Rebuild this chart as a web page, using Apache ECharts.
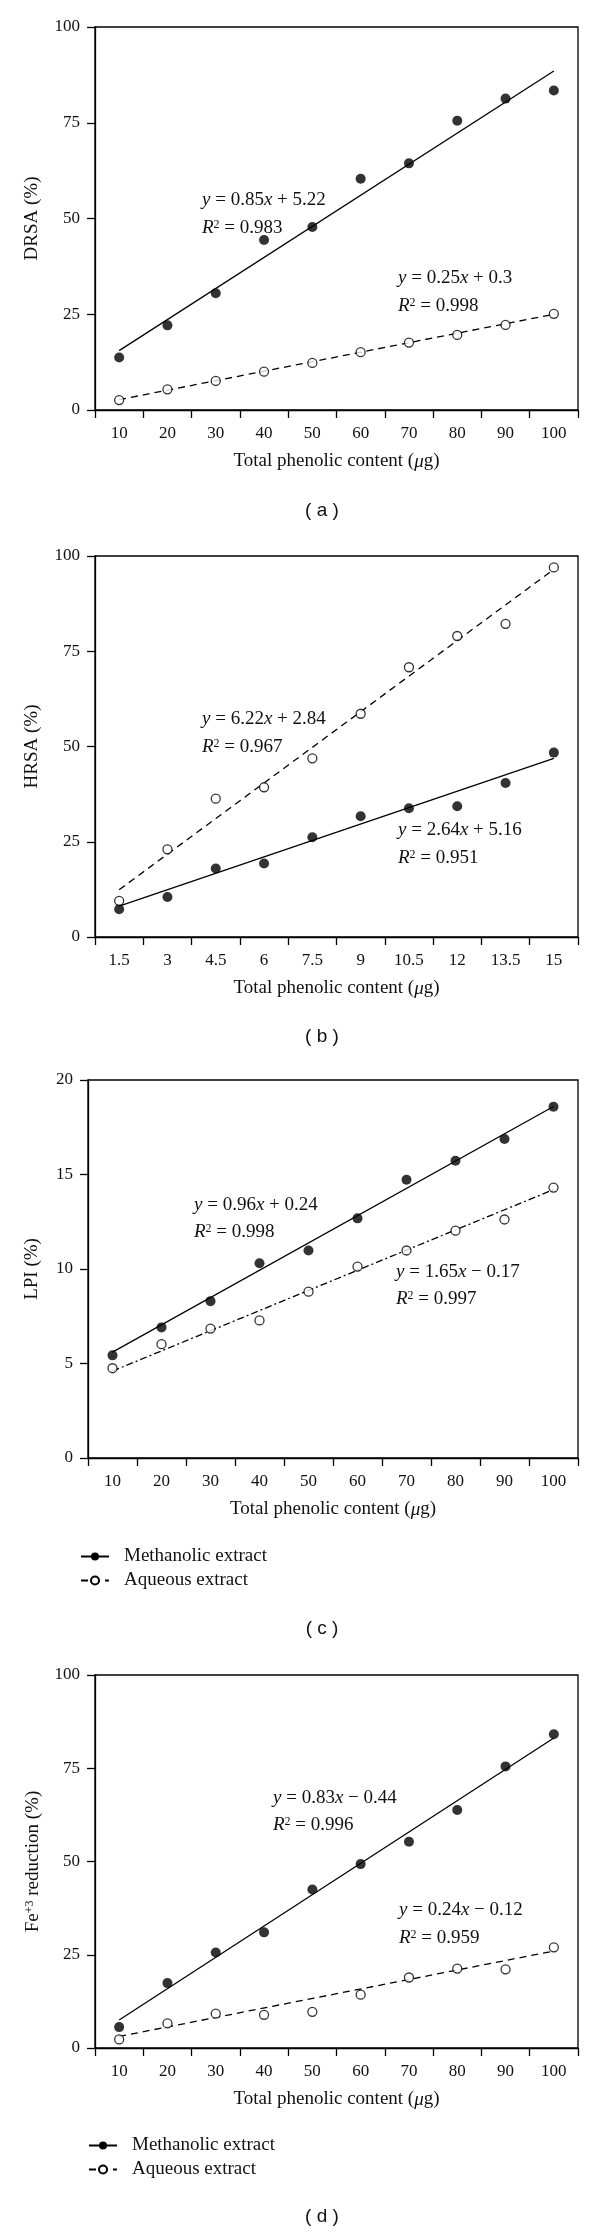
<!DOCTYPE html>
<html>
<head>
<meta charset="utf-8">
<script src="https://cdn.jsdelivr.net/npm/echarts@6/dist/echarts.min.js"></script>
<style>
html,body{margin:0;padding:0;background:#fff;}
#chart{width:600px;height:2233px;}
</style>
</head>
<body>
<div id="chart"></div>
<script>
// ---------------- DATA ----------------
const doseCats = ['10','20','30','40','50','60','70','80','90','100'];
const doseCatsB = ['1.5','3','4.5','6','7.5','9','10.5','12','13.5','15'];

// (a) DRSA
const drsaMeth = [13.7, 22.1, 30.5, 44.4, 47.8, 60.4, 64.4, 75.5, 81.3, 83.4];
const drsaAq   = [2.6, 5.4, 7.6, 10.0, 12.3, 15.1, 17.6, 19.6, 22.2, 25.1];
const drsaMethFit = [15.5, 88.5];
const drsaAqFit   = [2.7, 25.0];

// (b) HRSA
const hrsaMeth = [7.3, 10.5, 18.0, 19.3, 26.2, 31.7, 33.8, 34.3, 40.4, 48.4];
const hrsaAq   = [9.5, 23.0, 36.3, 39.3, 46.9, 58.6, 70.8, 79.0, 82.2, 97.0];
const hrsaMethFit = [8.1, 46.9];
const hrsaAqFit   = [12.4, 96.5];

// (c) LPI
const lpiMeth = [5.43, 6.91, 8.30, 10.30, 10.98, 12.68, 14.72, 15.73, 16.88, 18.58];
const lpiAq   = [4.75, 6.02, 6.85, 7.28, 8.80, 10.13, 10.98, 12.03, 12.62, 14.31];
const lpiMethFit = [5.6, 18.6];
const lpiAqFit   = [4.6, 14.2];

// (d) Fe+3 reduction
const feMeth = [5.6, 17.4, 25.6, 31.0, 42.5, 49.3, 55.3, 63.8, 75.5, 84.1];
const feAq   = [2.3, 6.6, 9.2, 8.9, 9.7, 14.3, 18.9, 21.3, 21.1, 27.0];
const feMethFit = [7.5, 83.1];
const feAqFit   = [3.1, 26.0];

const yNames = ['DRSA (%)', 'HRSA (%)', 'LPI (%)', 'Fe{sup|+3} reduction (%)'];
const yMax = [100, 100, 20, 100];
const yStep = [25, 25, 5, 25];
const xName = 'Total phenolic content ({i|μ}g)';
const legendNames = ['Methanolic extract', 'Aqueous extract'];
const captions = ['( a )', '( b )', '( c )', '( d )'];
// equations: [equation text, R2]
const equations = [
  [['y = 0.85x + 5.22', '0.983'], ['y = 0.25x + 0.3', '0.998']],
  [['y = 6.22x + 2.84', '0.967'], ['y = 2.64x + 5.16', '0.951']],
  [['y = 0.96x + 0.24', '0.998'], ['y = 1.65x \u2212 0.17', '0.997']],
  [['y = 0.83x \u2212 0.44', '0.996'], ['y = 0.24x \u2212 0.12', '0.959']]
];

// ---------------- LAYOUT / STYLE ----------------
const SERIF = '"Liberation Serif", "Times New Roman", serif';
const SANS = '"Liberation Sans", Arial, sans-serif';
const INK = '#111';
const grids = [
  {left: 95, right: 22, top: 27, height: 383},
  {left: 95, right: 22, top: 556, height: 381},
  {left: 88, right: 22, top: 1080, height: 378},
  {left: 95, right: 22, top: 1675, height: 373}
];
const yNameGap = [53, 53, 46, 52];
// annotation anchor points (left x, center y of eq line, center y of R2 line)
const eqPos = [
  [[202, 200, 228], [398, 278, 306]],
  [[202, 719, 747], [398, 830, 858]],
  [[194, 1205, 1232], [396, 1272, 1299]],
  [[273, 1798, 1825], [399, 1910, 1938]]
];
const captionY = [511, 1037, 1629, 2217];
const aqDash = [[7, 5], [7, 5], [7, 3, 2, 3], [7, 5]];

const panels = [
  {cats: doseCats, meth: drsaMeth, aq: drsaAq, fm: drsaMethFit, fa: drsaAqFit},
  {cats: doseCatsB, meth: hrsaMeth, aq: hrsaAq, fm: hrsaMethFit, fa: hrsaAqFit},
  {cats: doseCats, meth: lpiMeth, aq: lpiAq, fm: lpiMethFit, fa: lpiAqFit},
  {cats: doseCats, meth: feMeth, aq: feAq, fm: feMethFit, fa: feAqFit}
];

const italicTok = {fontStyle: 'italic', fontSize: 19, fontFamily: SERIF, color: INK};

const xAxes = [], yAxes = [], series = [], graphics = [];
panels.forEach(function (p, i) {
  xAxes.push({
    gridIndex: i, type: 'category', data: p.cats, boundaryGap: true,
    axisLine: {show: true, lineStyle: {color: '#000', width: 1.3}},
    axisTick: {show: true, length: 8, inside: false, alignWithLabel: false, interval: 0,
      lineStyle: {color: '#000', width: 1.3}},
    axisLabel: {interval: 0, margin: 15, color: INK, fontSize: 17, fontFamily: SERIF},
    splitLine: {show: false},
    name: xName, nameLocation: 'middle', nameGap: 42,
    nameTextStyle: {color: INK, fontSize: 19, fontFamily: SERIF, rich: {i: italicTok}}
  });
  yAxes.push({
    gridIndex: i, type: 'value', min: 0, max: yMax[i], interval: yStep[i],
    axisLine: {show: true, lineStyle: {color: '#000', width: 1.3}},
    axisTick: {show: true, length: 8, inside: false, lineStyle: {color: '#000', width: 1.3}},
    axisLabel: {margin: 15, color: INK, fontSize: 17, fontFamily: SERIF},
    splitLine: {show: false},
    name: yNames[i], nameLocation: 'middle', nameGap: yNameGap[i],
    nameTextStyle: {color: INK, fontSize: 19, fontFamily: SERIF,
      rich: {sup: {fontSize: 12, fontFamily: SERIF, color: INK, verticalAlign: 'top'}}}
  });
  const last = p.cats.length - 1;
  series.push({
    type: 'line', name: legendNames[0], xAxisIndex: i, yAxisIndex: i,
    data: [[p.cats[0], p.fm[0]], [p.cats[last], p.fm[1]]],
    showSymbol: false, symbol: 'circle', symbolSize: 9,
    lineStyle: {color: '#000', width: 1.3, type: 'solid'},
    itemStyle: {color: '#000'}, silent: true, z: 2
  });
  series.push({
    type: 'line', name: legendNames[1], xAxisIndex: i, yAxisIndex: i,
    data: [[p.cats[0], p.fa[0]], [p.cats[last], p.fa[1]]],
    showSymbol: false, symbol: 'emptyCircle', symbolSize: 8,
    lineStyle: {color: '#000', width: 1.3, type: aqDash[i]},
    itemStyle: {color: '#000'}, silent: true, z: 2
  });
  series.push({
    type: 'scatter', name: legendNames[0], xAxisIndex: i, yAxisIndex: i,
    data: p.meth, symbol: 'circle', symbolSize: 10,
    itemStyle: {color: '#000'}, z: 3
  });
  series.push({
    type: 'scatter', name: legendNames[1], xAxisIndex: i, yAxisIndex: i,
    data: p.aq, symbol: 'circle', symbolSize: 9,
    itemStyle: {color: '#fff', borderColor: '#000', borderWidth: 1.3}, z: 3
  });

  // equations
  equations[i].forEach(function (eq, k) {
    const pos = eqPos[i][k];
    const eqRich = eq[0].replace(/^y/, '{i|y}').replace(/(\d)x/, '$1{i|x}');
    graphics.push({
      type: 'text', x: pos[0], y: pos[1], silent: true,
      style: {text: eqRich, fontSize: 19, fontFamily: SERIF, fill: INK,
        align: 'left', verticalAlign: 'middle',
        rich: {i: {fontStyle: 'italic', fontSize: 19, fontFamily: SERIF, fill: INK}}}
    });
    graphics.push({
      type: 'text', x: pos[0], y: pos[2], silent: true,
      style: {text: '{i|R}{s|2} = ' + eq[1], fontSize: 19, fontFamily: SERIF, fill: INK,
        align: 'left', verticalAlign: 'middle',
        rich: {
          i: {fontStyle: 'italic', fontSize: 19, fontFamily: SERIF, fill: INK},
          s: {fontSize: 12, fontFamily: SERIF, fill: INK, verticalAlign: 'top'}
        }}
    });
  });
  graphics.push({
    type: 'text', x: 322, y: captionY[i], silent: true,
    style: {text: captions[i], fontSize: 19, fontFamily: SANS, fill: INK,
      align: 'center', verticalAlign: 'middle'}
  });
});

const legendBase = {
  orient: 'vertical', itemWidth: 28, itemHeight: 10, itemGap: 5, padding: 0,
  selectedMode: false, data: legendNames,
  textStyle: {fontSize: 19, fontFamily: SERIF, color: INK, padding: [0, 0, 0, 10]}
};

const option = {
  animation: false,
  backgroundColor: '#fff',
  grid: grids.map(function (g) {
    return Object.assign({show: true, borderColor: '#000', borderWidth: 1.3,
      backgroundColor: 'transparent', containLabel: false}, g);
  }),
  xAxis: xAxes,
  yAxis: yAxes,
  legend: [
    Object.assign({left: 80, top: 1547}, legendBase),
    Object.assign({left: 88, top: 2136}, legendBase)
  ],
  series: series,
  graphic: graphics
};

const chart = echarts.init(document.getElementById('chart'), null, {renderer: 'canvas'});
chart.setOption(option);
</script>
</body>
</html>
